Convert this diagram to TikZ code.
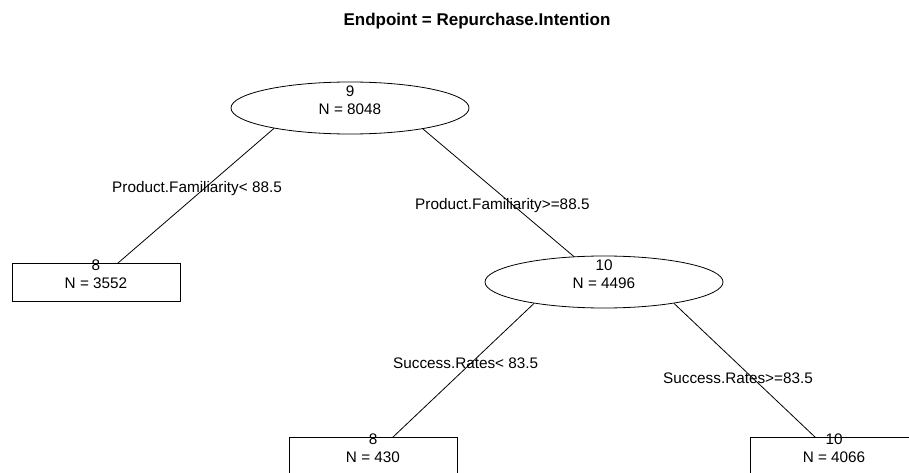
\documentclass[tikz,border=0pt]{standalone}
\usepackage{fontspec}
\setmainfont{Liberation Sans}
\usetikzlibrary{shapes.geometric}
\pgfdeclarelayer{edges}
\pgfsetlayers{edges,main}

\begin{document}
\begin{tikzpicture}[x=1pt,y=-1pt,
  every node/.style={font=\fontsize{15.3}{18}\selectfont},
  innernode/.style={ellipse,draw,fill=white,line width=0.8pt,
    minimum width=238pt,minimum height=52pt,inner sep=0pt},
  leafnode/.style={rectangle,draw,fill=white,line width=0.8pt,
    minimum width=168pt,minimum height=38pt,inner sep=0pt},
  nodetext/.style={align=center,inner sep=0pt,yshift=7.5pt},
  edgelabel/.style={anchor=base west,inner sep=0pt},
  branch/.style={line width=0.8pt}]
  \clip (0,0) rectangle (909,473);

  % title
  \node[font=\fontsize{17}{20}\selectfont\bfseries,anchor=base,inner sep=0pt]
    (title) at (477,26) {Endpoint = Repurchase.Intention};

  % tree nodes
  \node[innernode] (n1) at (350,108) {};
  \node[leafnode]  (n2) at (96,282) {};
  \node[innernode] (n3) at (604,282) {};
  \node[leafnode]  (n4) at (373,456) {};
  \node[leafnode]  (n5) at (834,456) {};

  \node[nodetext] (n1text) at (n1.center) {9\\N = 8048};
  \node[nodetext] (n2text) at (n2.center) {8\\N = 3552};
  \node[nodetext] (n3text) at (n3.center) {10\\N = 4496};
  \node[nodetext] (n4text) at (n4.center) {8\\N = 430};
  \node[nodetext] (n5text) at (n5.center) {10\\N = 4066};

  % branches leave the lower rim of each split node
  \begin{pgfonlayer}{edges}
    \draw[branch] (n1.195.6) -- (n2.center);
    \draw[branch] (n1.344.4) -- (n3.center);
    \draw[branch] (n3.197.5) -- (n4.center);
    \draw[branch] (n3.343.1) -- ([xshift=1pt]n5.center);
  \end{pgfonlayer}

  % split labels
  \node[edgelabel] (l12) at (112,192) {Product.Familiarity< 88.5};
  \node[edgelabel] (l13) at (415,209) {Product.Familiarity>=88.5};
  \node[edgelabel] (l34) at (393,368) {Success.Rates< 83.5};
  \node[edgelabel] (l35) at (663,383) {Success.Rates>=83.5};
\end{tikzpicture}
\end{document}
